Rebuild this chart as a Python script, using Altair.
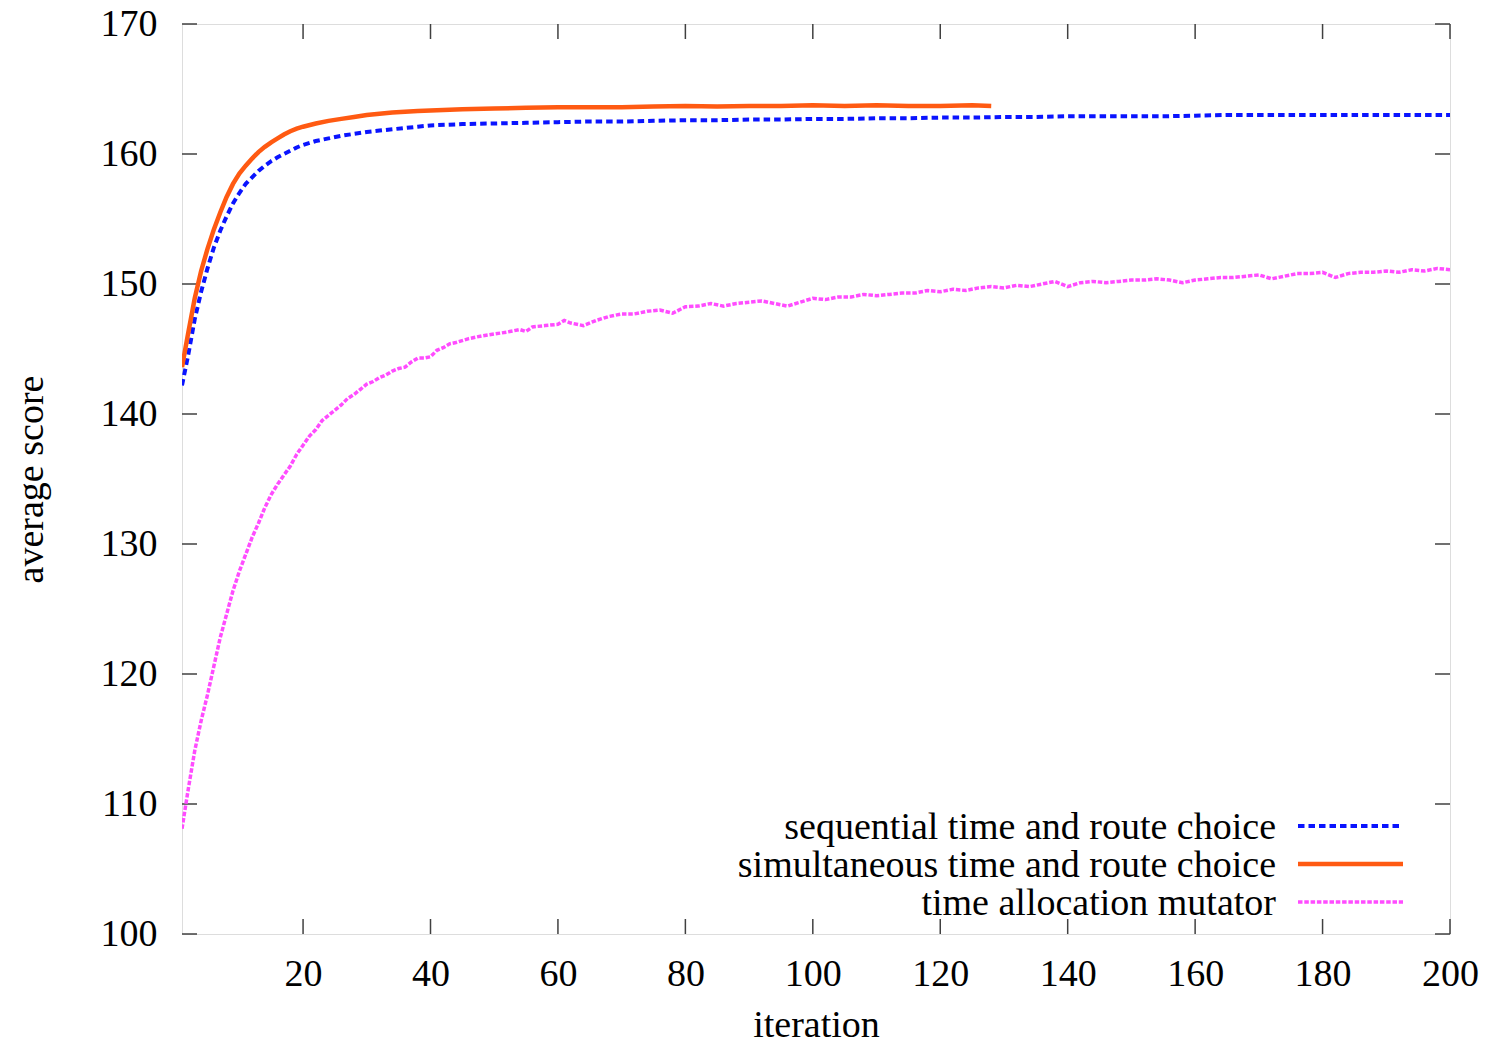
import altair as alt
import pandas as pd

# ---------------- data ----------------
seq_iter = [1, 2, 3, 4, 5, 6, 7, 8, 9, 10, 11, 12, 13, 14, 15, 16, 17, 18, 19, 20,
            22, 24, 26, 28, 30, 32, 34, 36, 38, 40, 45, 50, 55, 60, 65, 70, 75, 80,
            85, 90, 95, 100, 105, 110, 115, 120, 125, 130, 135, 140, 145, 150, 155,
            160, 165, 170, 175, 180, 185, 190, 195, 200]
seq_score = [142.2, 144.6, 147.3, 149.4, 151.2, 152.8, 154.1, 155.2, 156.2, 157.0,
             157.7, 158.2, 158.7, 159.1, 159.45, 159.75, 160.0, 160.25, 160.5, 160.7,
             161.0, 161.2, 161.4, 161.55, 161.7, 161.8, 161.9, 162.0, 162.1, 162.2,
             162.3, 162.35, 162.4, 162.45, 162.5, 162.5, 162.55, 162.6, 162.6, 162.65,
             162.65, 162.7, 162.7, 162.75, 162.75, 162.8, 162.8, 162.85, 162.85, 162.9,
             162.9, 162.9, 162.9, 162.95, 163.0, 163.0, 163.0, 163.0, 163.0, 163.0,
             163.0, 163.0]

sim_iter = [1, 2, 3, 4, 5, 6, 7, 8, 9, 10, 11, 12, 13, 14, 15, 16, 17, 18, 19, 20,
            22, 24, 26, 28, 30, 32, 34, 36, 38, 40, 45, 50, 55, 60, 65, 70, 75, 80,
            85, 90, 95, 100, 105, 110, 115, 120, 125, 128]
sim_score = [143.6, 146.3, 148.9, 151.0, 152.7, 154.2, 155.5, 156.7, 157.7, 158.5,
             159.1, 159.65, 160.15, 160.55, 160.9, 161.2, 161.5, 161.75, 161.95, 162.1,
             162.35, 162.55, 162.7, 162.85, 163.0, 163.1, 163.2, 163.25, 163.3, 163.35,
             163.45, 163.5, 163.55, 163.6, 163.6, 163.6, 163.65, 163.7, 163.65, 163.7,
             163.7, 163.75, 163.7, 163.75, 163.7, 163.7, 163.75, 163.7]

mut_iter = [1, 2, 3, 4, 5, 6, 7, 8, 9, 10, 11, 12, 13, 14, 15, 16, 17, 18, 19, 20,
            21, 22, 23, 24, 25, 26, 27, 28, 29, 30, 31, 32, 33, 34, 35, 36, 37, 38,
            39, 40, 41, 42, 43, 44, 46, 48, 50, 52, 54, 55, 56, 58, 60, 61, 62, 64,
            66, 68, 70, 72, 74, 76, 78, 80, 82, 84, 86, 88, 90, 92, 94, 96, 98, 100,
            102, 104, 106, 108, 110, 112, 114, 116, 118, 120, 122, 124, 126, 128, 130,
            132, 134, 136, 138, 140, 142, 144, 146, 148, 150, 152, 154, 156, 158, 160,
            162, 164, 166, 168, 170, 172, 174, 176, 178, 180, 182, 184, 186, 188, 190,
            192, 194, 196, 198, 200]
mut_score = [108.1, 111.2, 114.1, 116.4, 118.4, 120.6, 122.8, 124.6, 126.4, 127.9,
             129.2, 130.5, 131.6, 132.8, 133.8, 134.6, 135.3, 136.0, 136.9, 137.6,
             138.3, 138.8, 139.5, 139.9, 140.3, 140.7, 141.2, 141.5, 141.9, 142.3,
             142.5, 142.8, 143.0, 143.3, 143.5, 143.6, 144.0, 144.3, 144.3, 144.4,
             144.9, 145.1, 145.4, 145.5, 145.8, 146.0, 146.15, 146.3, 146.5, 146.35,
             146.7, 146.8, 146.9, 147.2, 147.0, 146.8, 147.2, 147.5, 147.7, 147.7,
             147.9, 148.0, 147.75, 148.25, 148.3, 148.5, 148.3, 148.5, 148.6, 148.7,
             148.5, 148.3, 148.6, 148.9, 148.8, 149.0, 149.0, 149.2, 149.1, 149.2,
             149.3, 149.3, 149.5, 149.4, 149.6, 149.5, 149.7, 149.8, 149.7, 149.9,
             149.8, 150.0, 150.2, 149.8, 150.1, 150.2, 150.1, 150.2, 150.3, 150.3,
             150.4, 150.3, 150.1, 150.3, 150.4, 150.5, 150.5, 150.6, 150.7, 150.4,
             150.6, 150.8, 150.8, 150.9, 150.5, 150.8, 150.9, 150.9, 151.0, 150.9,
             151.1, 151.0, 151.2, 151.1]

x_ticks = [20, 40, 60, 80, 100, 120, 140, 160, 180, 200]
y_ticks = [100, 110, 120, 130, 140, 150, 160, 170]

legend_labels = ["sequential time and route choice",
                 "simultaneous time and route choice",
                 "time allocation mutator"]

# ---------------- style ----------------
W, H = 1268, 910
FONT = "Liberation Serif"
FS = 38
FRAME = "#404040"
BLUE = "#0a14ff"
ORANGE = "#ff5a12"
MAGENTA = "#ff4cff"
TICK = 15

xs = alt.Scale(domain=[1, 200], nice=False, zero=False)
ys = alt.Scale(domain=[100, 170], nice=False, zero=False)

x_axis = alt.Axis(values=x_ticks, ticks=False, tickSize=0, domain=False, grid=False,
                  labelFont=FONT, labelFontSize=FS, labelColor="black",
                  labelPadding=40, labelBaseline="middle", labelFlush=False,
                  title="iteration", titleFont=FONT, titleFontSize=FS,
                  titleFontWeight="normal", titleColor="black",
                  titleBaseline="alphabetic", titleY=102, titleX=W / 2)
y_axis = alt.Axis(values=y_ticks, ticks=False, tickSize=0, domain=False, grid=False,
                  labelFont=FONT, labelFontSize=FS, labelColor="black",
                  labelPadding=25, labelBaseline="middle", labelFlush=False,
                  title="average score", titleFont=FONT, titleFontSize=FS,
                  titleFontWeight="normal", titleColor="black",
                  titleAngle=-90, titleBaseline="alphabetic", titleAlign="center",
                  titleX=-140, titleY=H / 2)


def X(field):
    return alt.X(field, type="quantitative", scale=xs, axis=x_axis)


def Y(field):
    return alt.Y(field, type="quantitative", scale=ys, axis=y_axis)


xt = pd.DataFrame({"t": x_ticks})
yt = pd.DataFrame({"t": y_ticks})

tick_bottom = alt.Chart(xt).mark_rule(color=FRAME, strokeWidth=1.5).encode(
    x=X("t"), y=alt.value(H - TICK), y2=alt.value(H))
tick_top = alt.Chart(xt).mark_rule(color=FRAME, strokeWidth=1.5).encode(
    x=X("t"), y=alt.value(0), y2=alt.value(TICK))
tick_left = alt.Chart(yt).mark_rule(color=FRAME, strokeWidth=1.5).encode(
    y=Y("t"), x=alt.value(0), x2=alt.value(TICK))
tick_right = alt.Chart(yt).mark_rule(color=FRAME, strokeWidth=1.5).encode(
    y=Y("t"), x=alt.value(W - TICK), x2=alt.value(W))


def series(its, vals, color, dash, width):
    df = pd.DataFrame({"iteration": its, "score": vals})
    mark = dict(color=color, strokeWidth=width, clip=True)
    if dash:
        mark["strokeDash"] = dash
    return alt.Chart(df).mark_line(**mark).encode(x=X("iteration"), y=Y("score"))


seq_line = series(seq_iter, seq_score, BLUE, [6.5, 4], 4)
sim_line = series(sim_iter, sim_score, ORANGE, None, 4.5)
mut_line = series(mut_iter, mut_score, MAGENTA, [4.5, 1.8], 3.5)

# ---------------- legend (gnuplot style: text right, sample left->right) ----------------
row_y = [802, 840, 878]
styles = [(BLUE, [6.5, 4], 4), (ORANGE, None, 4.5), (MAGENTA, [4.5, 1.8], 3.5)]
legend_layers = []
for lab, yy, (col, dash, wd) in zip(legend_labels, row_y, styles):
    d = pd.DataFrame({"label": [lab]})
    legend_layers.append(
        alt.Chart(d).mark_text(align="right", baseline="middle", font=FONT,
                               fontSize=FS, color="black").encode(
            text="label:N", x=alt.value(1094), y=alt.value(yy + 2)))
    rm = dict(color=col, strokeWidth=wd)
    if dash:
        rm["strokeDash"] = dash
    legend_layers.append(
        alt.Chart(d).mark_rule(**rm).encode(
            x=alt.value(1116), x2=alt.value(1221), y=alt.value(yy)))

chart = alt.layer(
    tick_bottom, tick_top, tick_left, tick_right,
    seq_line, sim_line, mut_line, *legend_layers
).properties(
    width=W, height=H,
    autosize=alt.AutoSizeParams(type="none"),
    padding={"left": 174, "top": 16, "right": 32, "bottom": 110},
).configure_view(
    stroke=FRAME, strokeWidth=1.5
).configure(background="white")

chart.save("out.html", embed_options={"renderer": "svg", "actions": False})
